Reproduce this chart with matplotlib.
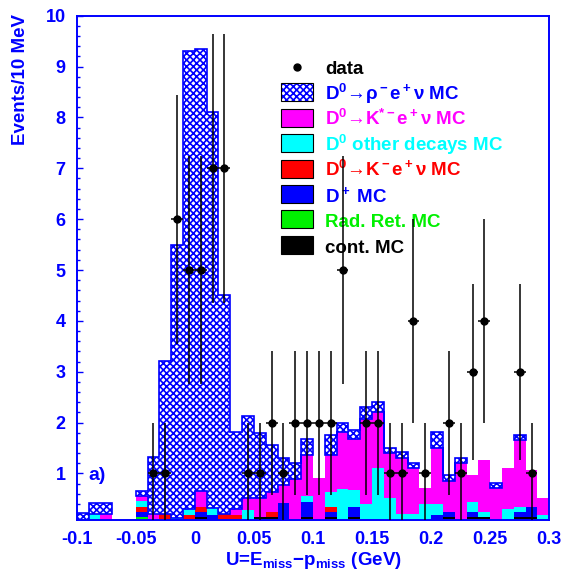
import numpy as np
import matplotlib
matplotlib.use('Agg')
import matplotlib.pyplot as plt
from matplotlib.patches import Rectangle
from matplotlib.ticker import MultipleLocator

plt.rcParams['font.family'] = ['Liberation Sans', 'DejaVu Sans']
plt.rcParams['font.weight'] = 'bold'
plt.rcParams['mathtext.fontset'] = 'custom'
plt.rcParams['mathtext.rm'] = 'Liberation Sans:bold'
plt.rcParams['mathtext.it'] = 'Liberation Sans:bold'
plt.rcParams['mathtext.bf'] = 'Liberation Sans:bold'
plt.rcParams['mathtext.default'] = 'rm'
plt.rcParams['hatch.linewidth'] = 1.2

# 40 bins of 10 MeV from -0.1 to 0.3 GeV
edges = np.linspace(-0.1, 0.3, 41)

# data counts per bin
data = [0, 0, 0, 0, 0, 0, 1, 1, 6, 5,
        5, 7, 7, 0, 1, 1, 2, 1, 2, 2,
        2, 2, 5, 0, 2, 2, 1, 1, 4, 1,
        0, 2, 1, 3, 4, 0, 0, 3, 1, 0]

# MC components (stack order bottom -> top)
cont = [0, 0, 0, 0, 0, 0, 0, 0, 0, 0,
        .15, 0, 0, 0, 0, .15, .15, 0, 0, .15,
        0, .15, 0, .15, 0, 0, 0, 0, 0, 0,
        0, .15, 0, .15, .15, 0, 0, .15, .15, 0]
radret = [0, 0, 0, 0, 0, .15, 0, 0, 0, 0,
          0, 0, 0, 0, 0, 0, 0, 0, 0, 0,
          0, 0, 0, 0, 0, 0, 0, 0, 0, 0,
          0, 0, 0, 0, 0, 0, 0, 0, 0, 0]
dplus = [0, 0, 0, 0, 0, .1, 0, 0, 0, 0,
         .1, .18, 0, 0, 0, 0, 0, .41, 0, .29,
         0, .1, 0, .2, 0, 0, 0, 0, 0, 0,
         .18, .1, 0, .1, 0, 0, 0, .1, .2, 0]
kenu = [0, 0, 0, 0, 0, .1, 0, .2, 0, .18,
        .1, 0, .2, .18, 0, 0, .1, 0, 0, 0,
        0, .1, 0, 0, 0, 0, 0, 0, 0, 0,
        0, 0, 0, 0, 0, 0, 0, 0, 0, 0]
other = [0, .2, 0, 0, 0, .1, 0, 0, .12, .13,
         0, .15, 0, 0, .28, 0, 0, 0, 0, .12,
         0, .29, .69, .32, .4, 1.11, .51, .2, .2, .4,
         .22, 0, 0, .19, .1, 0, .3, .1, 0, .18]
kstar = [0, 0, .2, 0, 0, .1, .2, 0, 0, 0,
         .3, 0, 0, .13, .23, .36, .39, .36, .9, .8,
         .92, .72, 1.13, 1.0, 1.68, 1.1, .89, 1.1, .9, .32,
         1.11, .61, 1.2, .53, 1.01, .71, .81, 1.31, .72, .34]
rho = [.22, .21, .21, 0, 0, .1, 1.12, 3.01, 5.38, 9.0,
       8.7, 7.78, 4.31, 1.5, 1.61, 1.28, .92, .54, .3, .31,
       0, .4, .18, .18, .23, .2, .11, .12, .11, 0,
       .3, .11, .11, 0, 0, .1, 0, .1, 0, 0]

BLUE = '#0000ff'
GREEN = '#00f000'
HATCH = 'xxxxx'
components = [(cont, 'black'), (radret, GREEN), (dplus, BLUE),
              (kenu, 'red'), (other, 'cyan'), (kstar, 'magenta')]

fig = plt.figure(figsize=(5.65, 5.73), dpi=100)
ax = fig.add_axes([76.7 / 565, 1 - 520 / 573, 472.6 / 565, 504.3 / 573])

base = np.zeros(len(edges) - 1)
for vals, col in components:
    vals = np.asarray(vals, dtype=float)
    ax.stairs(base + vals, edges, baseline=base.copy(), fill=True,
              color=col, lw=0, zorder=1)
    base = base + vals

# hatched D0 -> rho e nu on top, outlined per contiguous run of bins
rho = np.asarray(rho, dtype=float)
total = base + rho
has = rho > 0
i = 0
while i < len(rho):
    if not has[i]:
        i += 1
        continue
    j = i
    while j + 1 < len(rho) and has[j + 1]:
        j += 1
    px, py = [], []
    for k in range(i, j + 1):
        px += [edges[k], edges[k + 1]]
        py += [total[k], total[k]]
    for k in range(j, i - 1, -1):
        px += [edges[k + 1], edges[k]]
        py += [base[k], base[k]]
    ax.fill(px, py, facecolor='white', edgecolor=BLUE, hatch=HATCH,
            lw=1.2, zorder=1.5)
    i = j + 1

# data points with sqrt(N) errors
data = np.asarray(data, dtype=float)
centers = 0.5 * (edges[:-1] + edges[1:])
m = data > 0
ax.errorbar(centers[m], data[m], yerr=np.sqrt(data[m]), xerr=0.005,
            fmt='o', ms=5, color='black', elinewidth=1.1, capsize=0,
            zorder=3)

ax.set_xlim(-0.1, 0.3)
ax.set_ylim(0.085, 10)

for sp in ax.spines.values():
    sp.set_color(BLUE)
    sp.set_linewidth(1.4)

xt = [-0.1, -0.05, 0, 0.05, 0.1, 0.15, 0.2, 0.25, 0.3]
ax.set_xticks(xt)
ax.set_xticklabels(['-0.1', '-0.05', '0', '0.05', '0.1', '0.15', '0.2', '0.25', '0.3'])
ax.tick_params(axis='x', length=0, pad=8, labelsize=13, labelcolor=BLUE)
ax.set_yticks(range(1, 11))
ax.yaxis.set_minor_locator(MultipleLocator(0.2))
ax.tick_params(axis='y', which='major', direction='in', length=4.3, width=1,
               color=BLUE, labelcolor=BLUE, labelsize=13, pad=8)
ax.tick_params(axis='y', which='minor', direction='in', length=2.2, width=1,
               color=BLUE)

fig.text(21 / 565, 1 - 14 / 573, 'Events/10 MeV', rotation=90, ha='center',
         va='top', color=BLUE, fontsize=13.5, fontweight='bold')
fig.text(313 / 565, 1 - 565 / 573, r'U=E$_{miss}$$-$p$_{miss}$ (GeV)',
         ha='center', va='baseline', color=BLUE, fontsize=13.5,
         fontweight='bold')

ax.text(0.0254, 0.079, 'a)', transform=ax.transAxes, color=BLUE,
        fontsize=14, fontweight='bold', ha='left', va='baseline')

# legend
entries = [
    ('data', 'black', None, None),
    ('D$^0$→ρ$^-$e$^+$ν MC', BLUE, 'white', HATCH),
    ('D$^0$→K$^{*-}$e$^+$ν MC', 'magenta', 'magenta', None),
    ('D$^0$ other decays MC', 'cyan', 'cyan', None),
    ('D$^0$→K$^-$e$^+$ν MC', 'red', 'red', None),
    ('D$^+$ MC', BLUE, BLUE, None),
    ('Rad. Ret. MC', GREEN, GREEN, None),
    ('cont. MC', 'black', 'black', None),
]
bx, bw, bh = 0.4323, 0.0677, 0.0357
tx = 0.5254
y0, dy = 0.8989, 0.0505
for k, (label, tcol, fc, hatch) in enumerate(entries):
    yc = y0 - k * dy
    if fc is None:
        ax.plot([bx + bw / 2], [yc], 'o', ms=5, color='black',
                transform=ax.transAxes, zorder=2)
    else:
        if hatch:
            ax.add_patch(Rectangle((bx, yc - bh / 2), bw, bh, transform=ax.transAxes,
                                   facecolor=fc, edgecolor=BLUE, hatch=hatch,
                                   lw=0, zorder=2))
            ax.add_patch(Rectangle((bx, yc - bh / 2), bw, bh, transform=ax.transAxes,
                                   fill=False, edgecolor='black', lw=0.8, zorder=2))
        else:
            ax.add_patch(Rectangle((bx, yc - bh / 2), bw, bh, transform=ax.transAxes,
                                   facecolor=fc, edgecolor='black', lw=0.8, zorder=2))
    ax.text(tx, yc - 0.0153, label, transform=ax.transAxes, color=tcol,
            fontsize=13.5, fontweight='bold', ha='left', va='baseline', zorder=2)

fig.savefig('out.png', dpi=100)
